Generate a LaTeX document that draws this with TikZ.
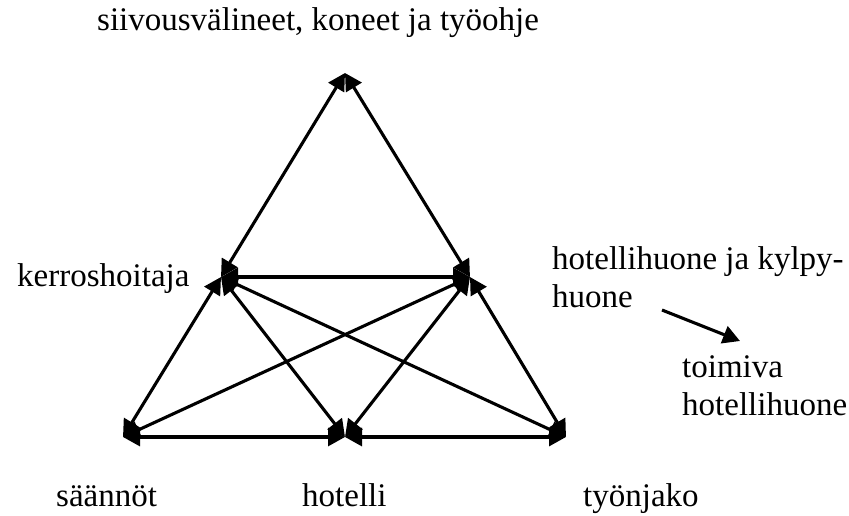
\documentclass[tikz,border=0pt]{standalone}
\usepackage{fontspec}
\setmainfont{Liberation Serif}
\usetikzlibrary{arrows.meta}

\begin{document}
\begin{tikzpicture}[x=1pt,y=-1pt,
    kaksi/.style={{Triangle[length=17pt,width=18pt]}-{Triangle[length=17pt,width=18pt]},line width=3.1pt},
    yksi/.style={-{Triangle[length=17pt,width=18pt]},line width=3.1pt},
    teksti/.style={inner sep=0pt,align=left,font=\fontsize{33}{38}\selectfont}]
   \useasboundingbox (0,0) rectangle (849,515);

   % kulmat
   \coordinate (valineet) at (345,73);
   \coordinate (kerros) at (221,277);
   \coordinate (huone) at (470,277);
   \coordinate (saannot) at (123,437);
   \coordinate (hotelli) at (345,437);
   \coordinate (tyonjako) at (566,437);

   \node[teksti,anchor=base west] (t-valineet) at (97,30) {siivousvälineet, koneet ja työohje};
   \node[teksti,anchor=base west] (t-kerros) at (17,286) {kerroshoitaja};
   \node[teksti,anchor=north west] (t-huone) at (552,246) {hotellihuone ja kylpy-\\huone};
   \node[teksti,anchor=north west] (t-toimiva) at (682,355) {toimiva\\hotellihuone};
   \node[teksti,anchor=base west] (t-saannot) at (56,506) {säännöt};
   \node[teksti,anchor=base west] (t-hotelli) at (302,506) {hotelli};
   \node[teksti,anchor=base west] (t-tyonjako) at (583,506) {työnjako};

   \draw[kaksi] (kerros) -- (valineet);
   \draw[kaksi] (huone) -- (valineet);
   \draw[kaksi] (kerros) -- (huone);

   \draw[kaksi] (kerros) -- (saannot);
   \draw[kaksi] (kerros) -- (hotelli);
   \draw[kaksi] (kerros) -- (tyonjako);
   \draw[kaksi] (huone) -- (saannot);
   \draw[kaksi] (huone) -- (hotelli);
   \draw[kaksi] (huone) -- (tyonjako);

   \draw[kaksi] (saannot) -- (hotelli);
   \draw[kaksi] (hotelli) -- (tyonjako);

   % huoneesta toimivaksi
   \coordinate (nuoli-a) at (662,310);
   \coordinate (nuoli-b) at (740,341);
   \draw[yksi] (nuoli-a) -- (nuoli-b);
 \end{tikzpicture}
\end{document}
